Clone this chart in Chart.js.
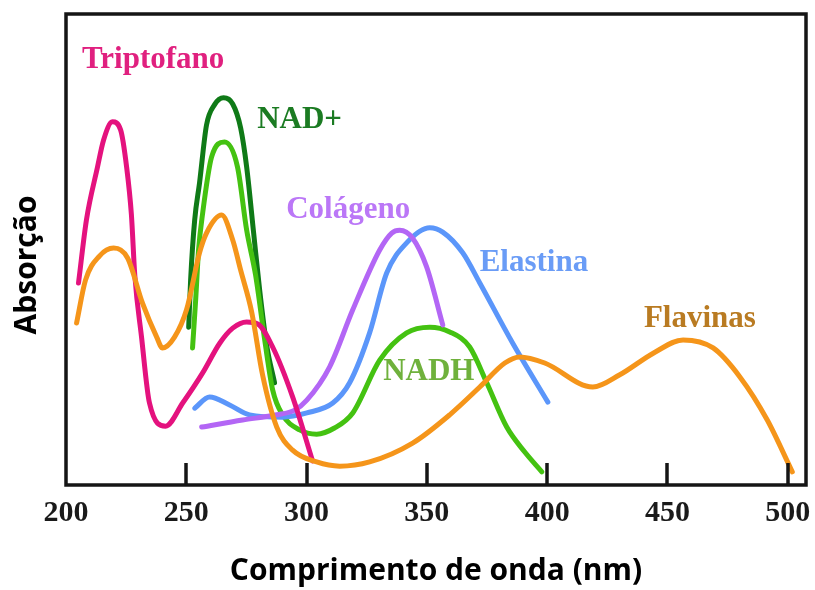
<!DOCTYPE html>
<html>
<head>
<meta charset="utf-8">
<script src="https://cdn.jsdelivr.net/npm/chart.js@4.4.0/dist/chart.umd.min.js"></script>
<style>
  html, body { margin: 0; padding: 0; background: #fff; }
  #wrap { width: 815px; height: 590px; }
</style>
</head>
<body>
<div id="wrap"><canvas id="chart"></canvas></div>
<script>
// ============================================================
// DATA (wavelength in nm, absorption in arbitrary units 0-100)
// ============================================================

const tickLabels = [200, 250, 300, 350, 400, 450, 500];

const tripX = [205.2, 208.5, 213.1, 215.6, 219.3, 222.7, 225.2, 227.2, 228.6, 231.4, 234.7, 241.4, 248.5, 256.8, 263.9, 269.3, 275.1, 279.7, 285.9, 294.2, 302.5];
const tripY = [42.9, 56.3, 67.5, 73.2, 77.1, 75.4, 67.5, 57.3, 44.5, 31.4, 17.4, 12.5, 17.4, 23.8, 30.1, 33.3, 34.6, 34.2, 29.3, 18.7, 5.1];

const flavX = [204.4, 208.1, 213.9, 219.8, 225.6, 231.8, 237.7, 240.1, 245.1, 250.1, 255.5, 258.4, 264.7, 269.3, 272.6, 277.2, 281.7, 287.6, 294.2, 304.2, 313.8, 326.2, 344.1, 359.5, 372.0, 382.4, 388.6, 399.0, 419.0, 430.2, 444.8, 456.5, 469.0, 480.2, 491.5, 501.9];
const flavY = [34.4, 43.5, 48.6, 50.3, 48.2, 38.6, 31.4, 29.1, 31.4, 37.2, 49.3, 53.5, 57.3, 52.0, 45.6, 36.7, 23.4, 12.3, 7.4, 4.9, 4.0, 4.9, 8.9, 14.9, 20.8, 25.9, 27.2, 25.9, 20.8, 23.4, 28.2, 30.8, 29.1, 22.9, 13.8, 2.8];

const nadX = [251.0, 251.8, 253.5, 255.5, 258.4, 261.7, 265.5, 269.3, 272.6, 275.1, 278.0, 280.5, 283.4, 286.7];
const nadY = [33.5, 43.5, 56.3, 64.1, 76.4, 80.7, 82.2, 80.9, 75.8, 67.5, 53.5, 41.4, 29.7, 21.7];

const nadhX = [252.6, 253.9, 255.1, 256.8, 260.5, 265.9, 271.3, 275.1, 278.8, 282.6, 285.9, 290.0, 297.1, 304.2, 311.6, 319.2, 330.4, 341.6, 351.2, 359.5, 367.8, 374.9, 383.2, 390.7, 397.8];
const nadhY = [29.1, 39.3, 49.9, 57.7, 69.6, 72.8, 67.5, 54.1, 44.6, 30.8, 20.2, 14.9, 11.7, 10.8, 12.1, 15.3, 26.5, 32.3, 33.5, 32.5, 29.3, 21.7, 12.3, 7.0, 2.8];

const colaX = [256.4, 273.4, 287.6, 295.1, 300.1, 309.6, 319.2, 330.4, 335.4, 338.7, 344.1, 349.9, 356.6];
const colaY = [12.3, 13.8, 14.9, 15.9, 18.0, 25.1, 37.2, 49.9, 53.5, 54.1, 52.4, 46.3, 34.0];

const elasX = [253.5, 259.7, 268.0, 276.3, 290.0, 300.1, 310.9, 317.9, 326.2, 333.3, 341.6, 351.2, 356.6, 364.9, 372.0, 385.7, 400.3];
const elasY = [16.3, 18.7, 17.0, 14.9, 14.4, 15.3, 17.4, 21.7, 32.3, 45.0, 51.4, 54.6, 53.7, 49.3, 42.9, 30.1, 17.6];

const pts = (xs, ys) => xs.map((x, i) => ({ x: x, y: ys[i] }));


// ============================================================
// LABEL ANNOTATIONS (data coordinates, text baseline)
// ============================================================

const curveLabels = [
  { text: "Triptofano", x: 236.2, y: 88.5, color: "#e0207f" },
  { text: "NAD+",       x: 297.1, y: 75.8, color: "#1b7b22" },
  { text: "Colágeno",   x: 317.3, y: 56.7, color: "#bb77f7" },
  { text: "Elastina",   x: 394.5, y: 45.4, color: "#6a9cf6" },
  { text: "NADH",       x: 350.8, y: 22.3, color: "#6fb13c" },
  { text: "Flavinas",   x: 463.5, y: 33.5, color: "#b97b22" }
];

const framePlugin = {
  id: "frame",
  afterDatasetsDraw(chart) {
    const { ctx, chartArea: a, scales } = chart;
    const xs = scales.x, ys = scales.y;

    ctx.save();

    // curve names
    ctx.font = "bold 31px 'Liberation Serif'";
    ctx.textAlign = "center";
    ctx.textBaseline = "alphabetic";
    curveLabels.forEach(l => {
      ctx.fillStyle = l.color;
      ctx.fillText(l.text, xs.getPixelForValue(l.x), ys.getPixelForValue(l.y));
    });

    // inner tick marks
    ctx.strokeStyle = "#151515";
    ctx.lineWidth = 3.5;
    tickLabels.slice(1).forEach(v => {
      const px = Math.round(xs.getPixelForValue(v));
      ctx.beginPath();
      ctx.moveTo(px, a.bottom);
      ctx.lineTo(px, a.bottom - 22);
      ctx.stroke();
    });

    // box
    ctx.strokeRect(a.left, a.top, a.right - a.left, a.bottom - a.top);

    // y title
    ctx.translate(27, 265);
    ctx.rotate(-Math.PI / 2);
    ctx.font = "bold 30px 'Open Sans'";
    ctx.fillStyle = "#000";
    ctx.textBaseline = "middle";
    ctx.fillText("Absorção", 0, 0);

    ctx.restore();
  }
};


// ============================================================
// CHART
// ============================================================

const ds = (label, xs, ys, color) => ({
  label: label,
  data: pts(xs, ys),
  borderColor: color,
  borderWidth: 5,
  pointRadius: 0,
  fill: false,
  cubicInterpolationMode: "monotone",
  borderCapStyle: "round",
  borderJoinStyle: "round"
});

new Chart(document.getElementById("chart"), {
  type: "line",
  data: {
    datasets: [
      ds("Flavinas", flavX, flavY, "#f5951a"),
      ds("Triptofano", tripX, tripY, "#e4127e"),
      ds("Colágeno", colaX, colaY, "#b366f5"),
      ds("Elastina", elasX, elasY, "#5b96fa"),
      ds("NADH", nadhX, nadhY, "#44c211"),
      ds("NAD+", nadX, nadY, "#0f7a17")
    ]
  },
  options: {
    responsive: true,
    maintainAspectRatio: false,
    animation: false,
    layout: { padding: { top: 14, right: 9, left: 0, bottom: 0 } },
    plugins: { legend: { display: false }, tooltip: { enabled: false } },
    scales: {
      x: {
        type: "linear",
        min: 200,
        max: 507.6,
        afterBuildTicks: (axis) => { axis.ticks = tickLabels.map(v => ({ value: v })); },
        afterFit: (scale) => { scale.height = 105; },
        grid: { display: false },
        border: { display: false },
        ticks: {
          color: "#1a1a1a",
          padding: 2,
          maxRotation: 0,
          autoSkip: false,
          font: { family: "'Liberation Serif'", weight: "bold", size: 30 },
          callback: (v) => String(v)
        },
        title: {
          display: true,
          text: "Comprimento de onda (nm)",
          color: "#000",
          padding: { top: 0, bottom: 1 },
          font: { family: "'Open Sans'", weight: "bold", size: 30 }
        }
      },
      y: {
        min: 0,
        max: 100,
        afterFit: (scale) => { scale.width = 66; },
        grid: { display: false },
        border: { display: false },
        ticks: { display: false }
      }
    }
  },
  plugins: [framePlugin]
});
</script>
</body>
</html>
